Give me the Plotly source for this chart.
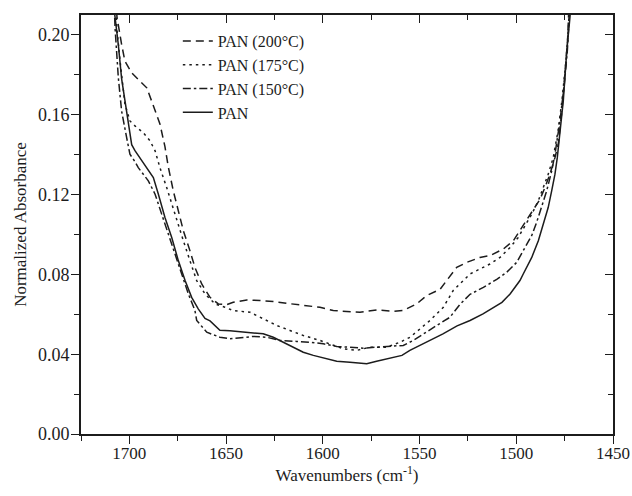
import plotly.graph_objects as go

# FTIR spectra, 1725-1450 cm-1 region (normalized absorbance)
wn_200 = [1707.5, 1706.4, 1704.0, 1702.3, 1698.8, 1695.4, 1691.0, 1688.5, 1686.7, 1684.2,
          1681.6, 1679.9, 1677.3, 1674.7, 1672.1, 1668.7, 1666.1, 1662.6, 1658.3, 1654.0,
          1649.7, 1646.3, 1639.3, 1632.5, 1625.6, 1618.7, 1611.8, 1604.9, 1601.5, 1594.6,
          1587.7, 1580.8, 1572.2, 1563.6, 1558.4, 1551.5, 1546.3, 1539.4, 1536.0, 1530.8,
          1525.6, 1518.8, 1513.6, 1506.7, 1501.5, 1498.1, 1494.6, 1491.2, 1487.7, 1485.2,
          1482.6, 1480.0, 1478.3, 1476.4, 1474.8, 1473.5, 1473.0, 1472.3]
ab_200 = [0.225, 0.209, 0.1952, 0.1869, 0.181, 0.1777, 0.1735, 0.1669, 0.1619, 0.1554,
          0.1440, 0.1340, 0.1219, 0.1119, 0.1019, 0.0919, 0.0835, 0.0752, 0.0685, 0.0652,
          0.0648, 0.0660, 0.0672, 0.0669, 0.0664, 0.0655, 0.0647, 0.0642, 0.0635, 0.0619,
          0.0614, 0.0610, 0.0622, 0.0615, 0.0619, 0.0652, 0.0694, 0.0725, 0.0769, 0.0835,
          0.0860, 0.0885, 0.0894, 0.0927, 0.0969, 0.1019, 0.1069, 0.1119, 0.1177, 0.1235,
          0.1302, 0.1385, 0.1452, 0.1620, 0.1790, 0.1970, 0.2090, 0.225]

wn_175 = [1707.3, 1706.5, 1704.8, 1702.3, 1699.7, 1697.1, 1692.8, 1689.3, 1686.7, 1684.2,
          1680.7, 1678.1, 1674.7, 1672.1, 1668.7, 1665.2, 1660.9, 1655.7, 1650.6, 1646.3,
          1637.6, 1630.8, 1623.8, 1617.0, 1610.1, 1601.5, 1596.3, 1589.4, 1582.5, 1575.6,
          1567.0, 1560.1, 1554.9, 1549.8, 1544.6, 1537.7, 1532.6, 1527.4, 1523.9, 1518.8,
          1513.6, 1508.4, 1503.2, 1499.0, 1495.5, 1492.0, 1488.6, 1486.0, 1483.5, 1480.9,
          1478.4, 1476.4, 1474.3, 1473.0, 1472.0]
ab_175 = [0.225, 0.2035, 0.1869, 0.1654, 0.1569, 0.1544, 0.1510, 0.1469, 0.1419, 0.1335,
          0.1235, 0.1152, 0.1052, 0.0969, 0.0869, 0.0769, 0.0702, 0.0652, 0.0635, 0.0619,
          0.0610, 0.0577, 0.0544, 0.0519, 0.0494, 0.0469, 0.0452, 0.0427, 0.0419, 0.0435,
          0.0435, 0.0460, 0.0485, 0.0527, 0.0569, 0.0635, 0.0719, 0.0769, 0.0802, 0.0827,
          0.0852, 0.0885, 0.0935, 0.0985, 0.1044, 0.1102, 0.1169, 0.1235, 0.1302, 0.1385,
          0.1520, 0.1670, 0.1870, 0.2040, 0.225]

wn_150 = [1708.2, 1707.4, 1705.7, 1704.0, 1701.4, 1699.7, 1697.1, 1695.4, 1690.2, 1686.7,
          1683.3, 1679.9, 1676.4, 1673.0, 1669.5, 1666.1, 1665.2, 1660.0, 1653.2, 1648.0,
          1641.1, 1635.9, 1629.0, 1622.1, 1613.5, 1606.6, 1599.8, 1592.8, 1586.0, 1579.1,
          1572.2, 1563.6, 1558.4, 1553.2, 1548.1, 1541.1, 1534.3, 1529.1, 1523.9, 1517.0,
          1510.1, 1505.0, 1499.8, 1495.5, 1492.0, 1489.5, 1486.9, 1484.3, 1481.7, 1480.0,
          1477.4, 1475.2, 1473.6, 1472.4, 1471.8]
ab_150 = [0.225, 0.2035, 0.1785, 0.1618, 0.1485, 0.1402, 0.1365, 0.1335, 0.1269, 0.1202,
          0.1102, 0.1002, 0.0902, 0.0802, 0.0702, 0.0619, 0.0569, 0.0510, 0.0485, 0.0477,
          0.0485, 0.0489, 0.0485, 0.0469, 0.0464, 0.0460, 0.0452, 0.0439, 0.0435, 0.0430,
          0.0435, 0.0439, 0.0444, 0.0469, 0.0502, 0.0544, 0.0585, 0.0650, 0.0700, 0.0735,
          0.0775, 0.0810, 0.0860, 0.0935, 0.0995, 0.1060, 0.1135, 0.1218, 0.1318, 0.1402,
          0.1570, 0.1750, 0.1920, 0.2094, 0.225]

wn_pan = [1709.0, 1707.4, 1705.7, 1704.0, 1701.4, 1698.8, 1697.1, 1693.6, 1691.9, 1687.6,
          1685.0, 1681.6, 1678.1, 1674.7, 1671.2, 1667.8, 1664.4, 1660.9, 1658.3, 1653.2,
          1648.0, 1642.8, 1635.9, 1630.8, 1625.6, 1620.4, 1615.3, 1610.1, 1604.9, 1598.0,
          1592.8, 1586.0, 1580.8, 1577.3, 1572.2, 1565.3, 1559.1, 1555.0, 1548.2, 1541.0,
          1537.9, 1530.6, 1523.9, 1517.2, 1512.0, 1507.4, 1503.2, 1498.1, 1496.4, 1492.0,
          1488.6, 1486.0, 1483.5, 1481.7, 1480.0, 1478.8, 1477.8, 1475.7, 1473.9, 1472.2,
          1471.5]
ab_pan = [0.222, 0.209, 0.195, 0.178, 0.162, 0.145, 0.142, 0.137, 0.1352, 0.1285,
          0.1202, 0.1085, 0.0985, 0.0869, 0.0769, 0.0685, 0.0627, 0.0579, 0.0567, 0.0520,
          0.0518, 0.0513, 0.0505, 0.0502, 0.0485, 0.0460, 0.0435, 0.0410, 0.0394, 0.0377,
          0.0365, 0.0360, 0.0355, 0.0352, 0.0365, 0.0382, 0.0394, 0.0419, 0.0452, 0.0485,
          0.0502, 0.0542, 0.0569, 0.0602, 0.0635, 0.0660, 0.0702, 0.0769, 0.0802, 0.0885,
          0.0969, 0.1052, 0.1135, 0.1219, 0.1302, 0.1385, 0.1469, 0.1669, 0.1919, 0.2094,
          0.225]

series_names = ["PAN (200°C)", "PAN (175°C)", "PAN (150°C)", "PAN"]
x_title = "Wavenumbers (cm<sup>-1</sup>)"
y_title = "Normalized Absorbance"

INK = "#1c1c1c"
FONT = "Liberation Serif, Times New Roman, serif"
dashes = ["8px,5px", "2.5px,4px", "8px,3px,2.5px,3px", "solid"]

fig = go.Figure()
for i, (xs, ys) in enumerate([(wn_200, ab_200), (wn_175, ab_175),
                              (wn_150, ab_150), (wn_pan, ab_pan)]):
    fig.add_trace(go.Scatter(
        x=xs, y=ys, mode="lines", name=series_names[i],
        line=dict(color=INK, width=1.5, dash=dashes[i]),
    ))

# invisible copy on the mirrored axes so the top/right inward ticks are drawn
fig.add_trace(go.Scatter(x=wn_pan, y=ab_pan, mode="lines", xaxis="x2", yaxis="y2",
                         line=dict(color="rgba(0,0,0,0)", width=0),
                         showlegend=False, hoverinfo="skip"))

axis_common = dict(showgrid=False, zeroline=False, showline=True, automargin=False,
                   linecolor=INK, linewidth=1.7, tickcolor=INK, tickwidth=1.4)

fig.update_layout(
    width=632, height=496,
    margin=dict(l=81, r=19, t=15, b=62),
    paper_bgcolor="white", plot_bgcolor="white",
    font=dict(family=FONT, size=17, color=INK),
    showlegend=True,
    legend=dict(x=0.182, y=0.9785, xanchor="left", yanchor="top",
                bgcolor="rgba(0,0,0,0)", borderwidth=0,
                font=dict(family=FONT, size=16, color=INK),
                tracegroupgap=0, itemwidth=30),
    xaxis=dict(range=[1725, 1450], tick0=1450, dtick=50, ticks="outside", ticklen=8,
               ticklabelstandoff=-5,
               tickfont=dict(family=FONT, size=17, color=INK),
               minor=dict(dtick=25, tick0=1450, ticks="outside", ticklen=5,
                          tickwidth=1.4, tickcolor=INK),
               title=dict(text=x_title, standoff=4,
                          font=dict(family=FONT, size=17, color=INK)),
               **axis_common),
    yaxis=dict(range=[0, 0.21], tick0=0, dtick=0.04, tickformat=".2f",
               ticks="outside", ticklen=8, ticklabelstandoff=-2,
               tickfont=dict(family=FONT, size=18, color=INK),
               minor=dict(dtick=0.02, tick0=0, ticks="outside", ticklen=5,
                          tickwidth=1.4, tickcolor=INK),
               title=dict(text=y_title, standoff=7,
                          font=dict(family=FONT, size=17, color=INK)),
               **axis_common),
    xaxis2=dict(overlaying="x", side="top", matches="x", showticklabels=False,
                tick0=1450, dtick=50, ticks="inside", ticklen=8,
                minor=dict(dtick=25, tick0=1450, ticks="inside", ticklen=5,
                           tickwidth=1.4, tickcolor=INK),
                **axis_common),
    yaxis2=dict(overlaying="y", side="right", matches="y", showticklabels=False,
                tick0=0, dtick=0.04, ticks="inside", ticklen=8,
                minor=dict(dtick=0.02, tick0=0, ticks="inside", ticklen=5,
                           tickwidth=1.4, tickcolor=INK),
                **axis_common),
)

fig.write_html("out.html")
